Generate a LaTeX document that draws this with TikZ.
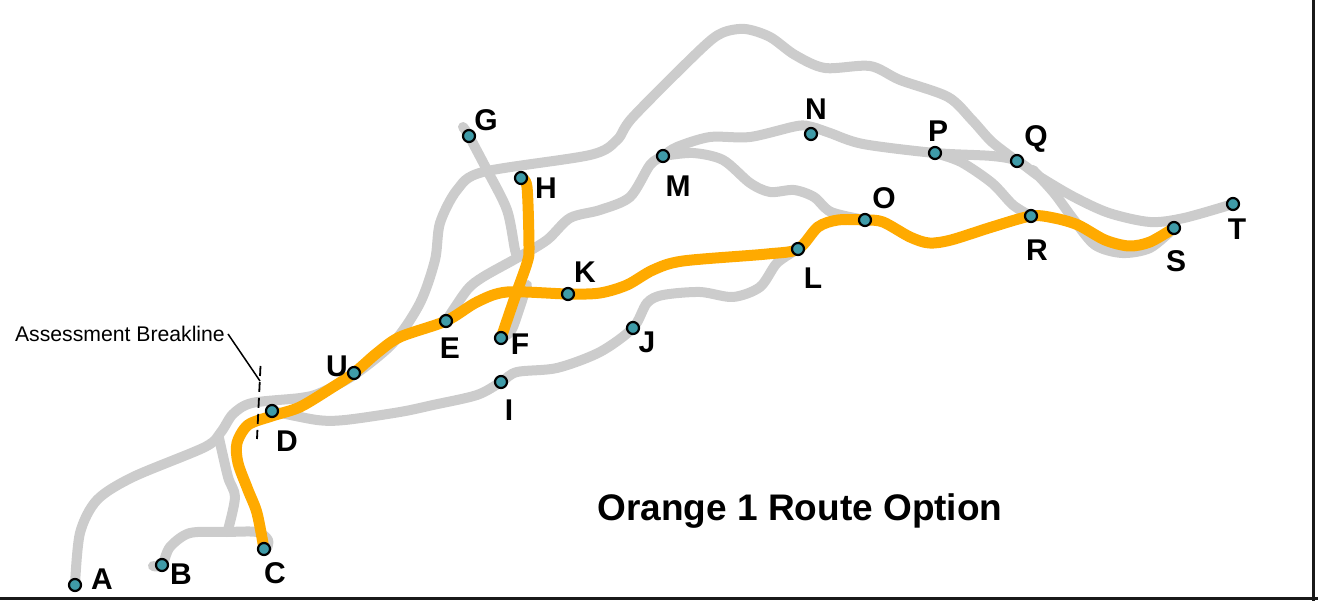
\documentclass[tikz,border=0pt]{standalone}
\usepackage{fontspec}
\setmainfont{Liberation Sans}
\usetikzlibrary{backgrounds}
\definecolor{routegray}{HTML}{CCCCCC}
\definecolor{routeorange}{HTML}{FFAA00}
\definecolor{stopteal}{HTML}{3F9BA8}
\tikzset{
    stopdot/.style={circle,draw=black,line width=2.2pt,fill=stopteal,inner sep=0pt,minimum size=12pt},
    stopname/.style={font=\fontsize{30}{30}\selectfont\bfseries,inner sep=0pt},
    altroute/.style={draw=routegray,line width=10pt,line cap=round,line join=round},
    mainroute/.style={draw=routeorange,line width=11pt,line cap=round,line join=round},
    frameline/.style={draw=black!90,line width=3pt}
}
\begin{document}
\begin{tikzpicture}[x=1pt,y=-1pt]
    \useasboundingbox (0,0) rectangle (1318,601);

    \node[stopdot] (A) at (75,585) {};
    \node[stopdot] (B) at (162,565) {};
    \node[stopdot] (C) at (264,549) {};
    \node[stopdot] (D) at (272,411) {};
    \node[stopdot] (E) at (446,321) {};
    \node[stopdot] (F) at (501,338) {};
    \node[stopdot] (G) at (469,136) {};
    \node[stopdot] (H) at (521,178) {};
    \node[stopdot] (I) at (501,382) {};
    \node[stopdot] (J) at (633,328) {};
    \node[stopdot] (K) at (568,294) {};
    \node[stopdot] (L) at (798,249) {};
    \node[stopdot] (M) at (663,156) {};
    \node[stopdot] (N) at (811,134) {};
    \node[stopdot] (O) at (865,220) {};
    \node[stopdot] (P) at (935,153) {};
    \node[stopdot] (Q) at (1017,161) {};
    \node[stopdot] (R) at (1031,216) {};
    \node[stopdot] (S) at (1174,228) {};
    \node[stopdot] (T) at (1233,204) {};
    \node[stopdot] (U) at (354,373) {};

    \node[stopname] (Alabel) at (102,579) {A};
    \node[stopname] (Blabel) at (181,574) {B};
    \node[stopname] (Clabel) at (275,573) {C};
    \node[stopname] (Dlabel) at (287,441) {D};
    \node[stopname] (Elabel) at (450,348) {E};
    \node[stopname] (Flabel) at (520,344) {F};
    \node[stopname] (Glabel) at (486,120) {G};
    \node[stopname] (Hlabel) at (546,188) {H};
    \node[stopname] (Ilabel) at (509,410) {I};
    \node[stopname] (Jlabel) at (647,342) {J};
    \node[stopname] (Klabel) at (585,272) {K};
    \node[stopname] (Llabel) at (813,278) {L};
    \node[stopname] (Mlabel) at (678,186) {M};
    \node[stopname] (Nlabel) at (816,109) {N};
    \node[stopname] (Olabel) at (884,198) {O};
    \node[stopname] (Plabel) at (938,131) {P};
    \node[stopname] (Qlabel) at (1036,139) {Q};
    \node[stopname] (Rlabel) at (1037,250) {R};
    \node[stopname] (Slabel) at (1176,261) {S};
    \node[stopname] (Tlabel) at (1237,229) {T};
    \node[stopname] (Ulabel) at (337,366) {U};

    \node[font=\fontsize{37}{37}\selectfont\bfseries,inner sep=0pt] (title) at (800,511) {Orange 1 Route Option};
    \node[font=\fontsize{21.2}{21.2}\selectfont,inner sep=0pt,anchor=east] (breaklabel) at (225,334) {Assessment Breakline};

    \coordinate (breaktop) at (260.5,366);
    \coordinate (breakbot) at (257,439);
    \coordinate (breakjoin) at (260,381);

    \draw[black,line width=1.5pt] (breaklabel.east) ++(3,0) -- (breakjoin);
    \draw[black,line width=1.8pt,dash pattern=on 10pt off 6pt] (breaktop) -- (breakbot);

    \begin{pgfonlayer}{background}
        % grey alternatives
        \draw[altroute] plot[smooth] coordinates {(A) (80,533) (97,500) (133,477) (205,447) (221,432) (233,414) (252,403) (300,398) (320,393) (354,375) (393,343) (420,303) (435,260) (440,223) (457,190) (483,172) (590,155) (617,140) (633,117) (700,50) (722,33) (745,29) (770,37) (795,55) (825,68) (870,66) (900,80) (948,97) (972,120) (992,142) (Q)};
        \draw[altroute] plot[smooth] coordinates {(219,438) (228,477) (235,497) (228,530)};
        \draw[altroute] plot[smooth] coordinates {(153,566) (B) (170,547) (190,533) (227,532) (257,532) (268,540) (267,548)};
        \draw[altroute] plot[smooth] coordinates {(D) (317,420) (345,420) (400,412) (433,405) (477,395) (I) (517,372) (557,368) (600,352) (J) (647,303) (663,295) (700,292) (733,297) (760,287) (777,263) (L)};
        \draw[altroute] plot[smooth] coordinates {(E) (467,290) (483,277) (517,258) (547,240) (570,218) (600,210) (630,197) (650,165) (M) (677,147) (710,137) (750,137) (797,126) (812,127) (830,133) (863,144) (P) (992,156) (Q) (1040,177) (1074,197) (1109,213) (1150,222) (1184,218) (T)};
        \draw[altroute] plot[smooth] coordinates {(M) (693,153) (723,160) (750,183) (770,192) (794,190) (814,197) (831,212) (O)};
        \draw[altroute] plot[smooth] coordinates {(P) (961,162) (992,183) (1013,205) (R)};
        \draw[altroute] plot[smooth] coordinates {(1033,170) (1054,193) (1074,220) (1095,245) (1122,253) (1150,248) (S)};
        \draw[altroute] plot[smooth] coordinates {(463,127) (G) (487,170) (507,210) (515,250) (518,257)};
        \draw[altroute] plot[smooth] coordinates {(505,336) (513,327) (527,285)};

        % orange option
        \draw[mainroute] plot[smooth] coordinates {(C) (257,513) (248,490) (238,463) (237,443) (248,425) (272,416) (300,407) (333,387) (U) (377,353) (400,337) (E) (477,302) (507,292) (K) (600,293) (627,285) (653,270) (683,261) (767,254) (L) (818,227) (838,220) (O) (883,222) (910,237) (929,243) (951,240) (992,227) (R) (1054,218) (1078,225) (1105,240) (1129,246) (1150,242) (S)};
        \draw[mainroute] plot[smooth] coordinates {(H) (527,187) (529,247) (527,263) (515,297) (F)};
    \end{pgfonlayer}

    \coordinate (frametop) at (1313,0);
    \coordinate (framedown) at (1313,601);
    \coordinate (frameleft) at (0,598);
    \coordinate (frameright) at (1318,598);
    \draw[frameline] (frametop) -- (framedown);
    \draw[frameline] (frameleft) -- (frameright);
\end{tikzpicture}
\end{document}
